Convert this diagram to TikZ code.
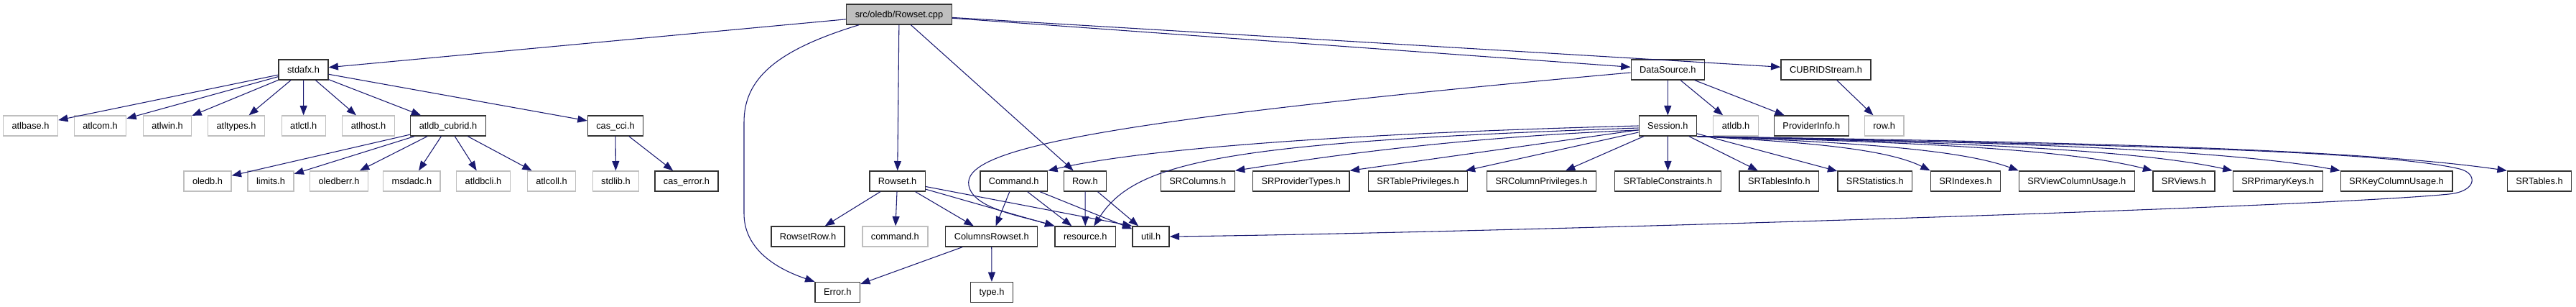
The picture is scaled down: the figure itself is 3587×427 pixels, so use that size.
\documentclass[tikz,border=0pt]{standalone}
\usepackage{fontspec}
\setmainfont{Liberation Sans}
\usepackage{tikz}
\usetikzlibrary{
  arrows.meta,
  calc,
  positioning
}
\definecolor{depblue}{HTML}{191970}
\tikzset{
  hdr/.style={draw=black!80,line width=1pt,fill=white,minimum height=21pt,
    inner xsep=9pt,inner ysep=0pt,text height=1.5ex,text depth=.3ex,
    font=\fontsize{9.6}{11}\selectfont},
  hdrgray/.style={hdr,draw=black!25,line width=1pt},
  hdrroot/.style={hdr,fill=black!25},
  dep/.style={draw=depblue,line width=.8pt,-{Triangle[length=10pt,width=7.5pt]}}
}

\begin{document}
\begin{tikzpicture}[x=0.75pt,y=-0.75pt]
\useasboundingbox (0,0) rectangle (3587,427);
\node[hdrroot] (root) at (1252,20) {src/oledb/Rowset.cpp};
\node[hdr] (stdafx) at (422.5,97) {stdafx.h};
\node[hdr] (dsrc) at (2322.3,97) {DataSource.h};
\node[hdr] (cstream) at (2542.5,97) {CUBRIDStream.h};

\node[hdrgray] (atlbase) at (42.5,175) {atlbase.h};
\node[hdrgray] (atlcom) at (139.5,175) {atlcom.h};
\node[hdrgray] (atlwin) at (233,175) {atlwin.h};
\node[hdrgray] (atltypes) at (329,175) {atltypes.h};
\node[hdrgray] (atlctl) at (422.7,175) {atlctl.h};
\node[hdrgray] (atlhost) at (513,175) {atlhost.h};
\node[hdr] (atlcub) at (624,175) {atldb\_cubrid.h};
\node[hdr] (cascci) at (857,175) {cas\_cci.h};
\node[hdr] (sess) at (2322.3,175) {Session.h};
\node[hdrgray] (atldb) at (2417,175) {atldb.h};
\node[hdr] (pinfo) at (2522.3,175) {ProviderInfo.h};
\node[hdrgray] (rowl) at (2623.7,175) {row.h};

\node[hdrgray] (oledb) at (289,252) {oledb.h};
\node[hdrgray] (limits) at (377,252) {limits.h};
\node[hdrgray] (oledberr) at (472,252) {oledberr.h};
\node[hdrgray] (msdadc) at (573.4,252) {msdadc.h};
\node[hdrgray] (atldbcli) at (673,252) {atldbcli.h};
\node[hdrgray] (atlcoll) at (768,252) {atlcoll.h};
\node[hdrgray] (stdlib) at (857.5,252) {stdlib.h};
\node[hdr] (caserr) at (956,252) {cas\_error.h};
\node[hdr] (rowseth) at (1249.6,252) {Rowset.h};
\node[hdr] (cmdh) at (1411.7,252) {Command.h};
\node[hdr] (rowh) at (1511,252) {Row.h};
\node[hdr] (srcol) at (1667.8,252) {SRColumns.h};
\node[hdr] (srprov) at (1811.8,252) {SRProviderTypes.h};
\node[hdr] (srtpriv) at (1974.5,252) {SRTablePrivileges.h};
\node[hdr] (srcpriv) at (2146.4,252) {SRColumnPrivileges.h};
\node[hdr] (srtcons) at (2322.5,252) {SRTableConstraints.h};
\node[hdr] (srtinfo) at (2477.3,252) {SRTablesInfo.h};
\node[hdr] (srstat) at (2610.8,252) {SRStatistics.h};
\node[hdr] (sridx) at (2737,252) {SRIndexes.h};
\node[hdr] (srvcu) at (2891.8,252) {SRViewColumnUsage.h};
\node[hdr] (srviews) at (3041,252) {SRViews.h};
\node[hdr] (srpk) at (3171.8,252) {SRPrimaryKeys.h};
\node[hdr] (srkcu) at (3337,252) {SRKeyColumnUsage.h};
\node[hdr] (srtab) at (3536,252) {SRTables.h};

\node[hdr] (rsrow) at (1125,329) {RowsetRow.h};
\node[hdrgray] (cmdl) at (1246.4,329) {command.h};
\node[hdr] (colrs) at (1380.7,329) {ColumnsRowset.h};
\node[hdr] (resh) at (1511.3,329) {resource.h};
\node[hdr] (utilh) at (1602.6,329) {util.h};

\node[hdr] (errh) at (1166.3,406.5) {Error.h};
\node[hdr] (typeh) at (1381,406.5) {type.h};

\draw[dep] (root) -- (stdafx);
\draw[dep] (root) -- (dsrc);
\draw[dep] (root) -- (cstream);
\draw[dep] (root) -- (rowseth);
\draw[dep] (root) -- (rowh);
\draw[dep] ($(root.south west)+(18,0)$) .. controls (1080,70) and (1036,110) .. (1036,170)
  -- (1036,297) .. controls (1036,340) and (1070,370) .. (errh.north west);

\draw[dep] (stdafx) -- (atlbase);
\draw[dep] (stdafx) -- (atlcom);
\draw[dep] (stdafx) -- (atlwin);
\draw[dep] (stdafx) -- (atltypes);
\draw[dep] (stdafx) -- (atlctl);
\draw[dep] (stdafx) -- (atlhost);
\draw[dep] (stdafx) -- (atlcub);
\draw[dep] (stdafx) -- (cascci);

\draw[dep] (atlcub) -- (oledb);
\draw[dep] (atlcub) -- (limits);
\draw[dep] (atlcub) -- (oledberr);
\draw[dep] (atlcub) -- (msdadc);
\draw[dep] (atlcub) -- (atldbcli);
\draw[dep] (atlcub) -- (atlcoll);
\draw[dep] (cascci) -- (stdlib);
\draw[dep] (cascci) -- (caserr);

\draw[dep] (dsrc) -- (sess);
\draw[dep] (dsrc) -- (atldb);
\draw[dep] (dsrc) -- (pinfo);
\draw[dep] ($(dsrc.west)+(0,4)$) .. controls (1500,170) and (1340,210) .. (1349,258)
  .. controls (1355,290) and (1420,300) .. (resh.north west);
\draw[dep] (cstream) -- (rowl);

\draw[dep] (sess.west) .. controls (1900,185) and (1600,205) .. (cmdh.north east);
\draw[dep] ($(sess.west)+(0,3)$) .. controls (1700,198) and (1580,225) .. ($(resh.north)+(12,0)$);
\draw[dep] ($(sess.west)+(0,6)$) .. controls (2000,192) and (1800,225) .. (srcol.north east);
\draw[dep] (sess) -- (srprov.north east);
\draw[dep] (sess) -- (srtpriv);
\draw[dep] (sess) -- (srcpriv);
\draw[dep] (sess) -- (srtcons);
\draw[dep] (sess) -- (srtinfo);
\draw[dep] (sess) -- (srstat);
\draw[dep] (sess.south east) .. controls ($(sess.south east)!.4!(sridx.north west)+(0,-12)$)
  and ($(sess.south east)!.8!(sridx.north west)+(0,-23)$) .. (sridx.north west);
\draw[dep] (sess.south east) .. controls ($(sess.south east)!.4!(srvcu.north west)+(0,-12)$)
  and ($(sess.south east)!.8!(srvcu.north west)+(0,-23)$) .. (srvcu.north west);
\draw[dep] (sess.south east) .. controls ($(sess.south east)!.4!(srviews.north west)+(0,-12)$)
  and ($(sess.south east)!.8!(srviews.north west)+(0,-23)$) .. (srviews.north west);
\draw[dep] (sess.south east) .. controls ($(sess.south east)!.4!(srpk.north west)+(0,-12)$)
  and ($(sess.south east)!.8!(srpk.north west)+(0,-23)$) .. (srpk.north west);
\draw[dep] (sess.south east) .. controls ($(sess.south east)!.4!(srkcu.north west)+(0,-12)$)
  and ($(sess.south east)!.8!(srkcu.north west)+(0,-23)$) .. (srkcu.north west);
\draw[dep] (sess.south east) .. controls ($(sess.south east)!.4!(srtab.north west)+(0,-12)$)
  and ($(sess.south east)!.8!(srtab.north west)+(0,-23)$) .. (srtab.north west);
\draw[dep] (sess.south east) .. controls (2800,200) and (3300,205) .. (3425,235)
  .. controls (3450,241) and (3450,266) .. (3410,270)
  .. controls (3210,290) and (2000,325) .. (utilh.east);

\draw[dep] (rowseth) -- (rsrow);
\draw[dep] (rowseth) -- (cmdl);
\draw[dep] (rowseth) -- (colrs);
\draw[dep] (rowseth) -- (resh.north west);
\draw[dep] (rowseth) -- (utilh.north west);
\draw[dep] (cmdh) -- (colrs);
\draw[dep] (cmdh) -- (resh);
\draw[dep] (cmdh) -- (utilh);
\draw[dep] (rowh) -- (resh);
\draw[dep] (rowh) -- (utilh);
\draw[dep] (colrs) -- (errh);
\draw[dep] (colrs) -- (typeh);
\end{tikzpicture}
\end{document}
